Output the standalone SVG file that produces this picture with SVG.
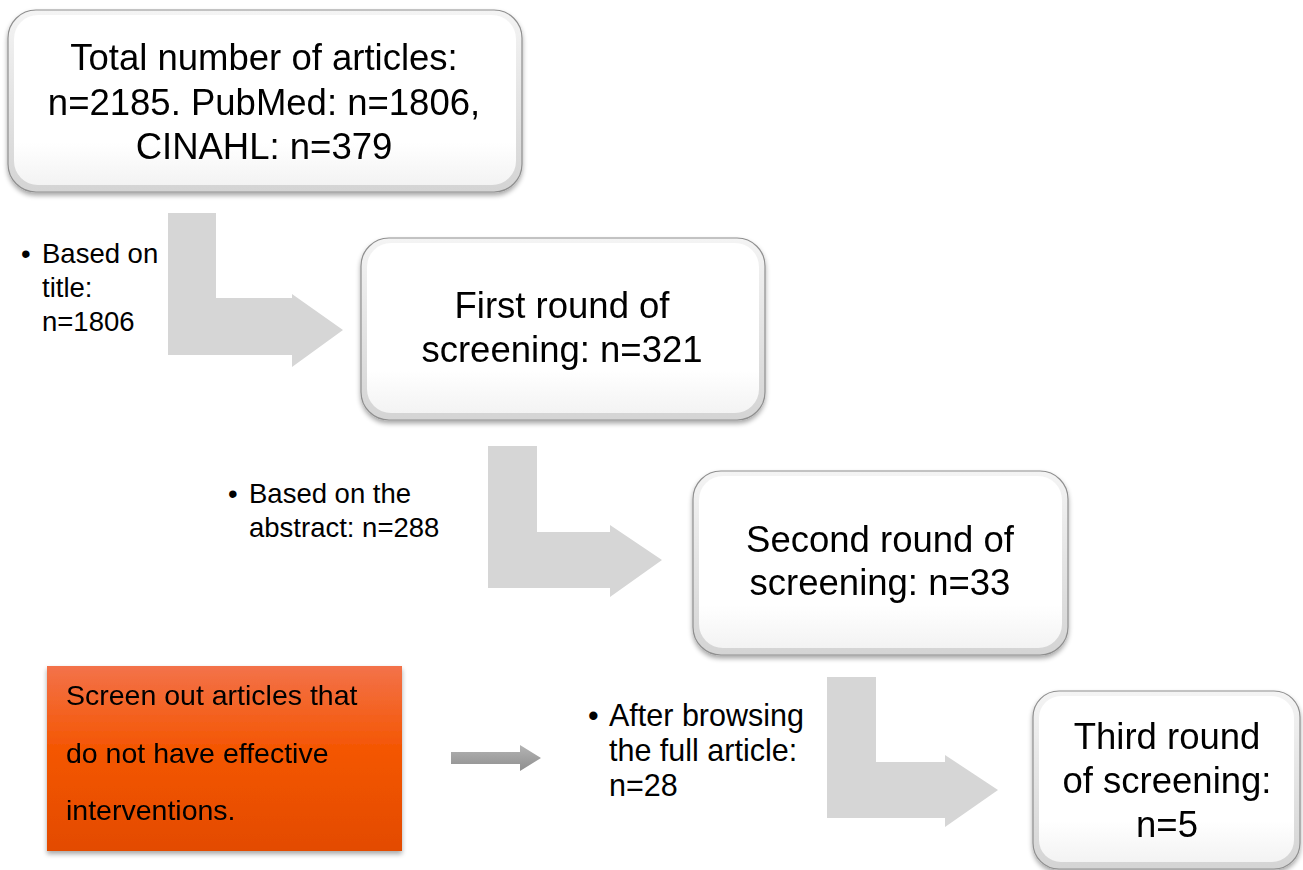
<svg xmlns="http://www.w3.org/2000/svg" width="1303" height="870" viewBox="0 0 1303 870">
<defs>
<linearGradient id="bevel" x1="0" y1="0" x2="0" y2="1">
<stop offset="0" stop-color="#f4f4f4"/><stop offset="1" stop-color="#d4d4d4"/>
</linearGradient>
<linearGradient id="face" x1="0" y1="0" x2="0" y2="1">
<stop offset="0" stop-color="#ffffff"/><stop offset="0.75" stop-color="#ffffff"/><stop offset="1" stop-color="#f3f3f3"/>
</linearGradient>
<linearGradient id="orange" x1="0" y1="0" x2="0" y2="1">
<stop offset="0" stop-color="#f3724a"/><stop offset="0.45" stop-color="#f45602"/><stop offset="1" stop-color="#e34b00"/>
</linearGradient>
<linearGradient id="grey" x1="0" y1="0" x2="0" y2="1">
<stop offset="0" stop-color="#b4b4b4"/><stop offset="1" stop-color="#8e8e8e"/>
</linearGradient>
<filter id="shadow" x="-10%" y="-10%" width="120%" height="125%">
<feGaussianBlur in="SourceAlpha" stdDeviation="2.5"/>
<feOffset dx="0" dy="3" result="b"/>
<feComponentTransfer><feFuncA type="linear" slope="0.35"/></feComponentTransfer>
<feMerge><feMergeNode/><feMergeNode in="SourceGraphic"/></feMerge>
</filter>
</defs>
<style>
.outer{fill:url(#bevel);stroke:#8f8f8f;stroke-width:1.2}
.inner{fill:url(#face)}
.big{font-family:"Liberation Sans",Arial,sans-serif;font-size:36.5px;fill:#000;text-anchor:middle}
.lbl{font-family:"Liberation Sans",Arial,sans-serif;font-size:27.5px;fill:#000}
.lbl3{font-family:"Liberation Sans",Arial,sans-serif;font-size:30.5px;fill:#000}
.otx{font-family:"Liberation Sans",Arial,sans-serif;font-size:28.5px;fill:#000}
.bent{fill:#d6d6d6}
</style>

<g id="connectors">
<path class="bent" d="M168,213 H216 V298 H292 V294 L343,330 L292,367 V355 H168 Z"/>
<path class="bent" d="M488,446 H537 V532 H610 V525 L662,560 L610,597 V588 H488 Z"/>
<path class="bent" d="M827,677 H876 V762 H945 V755 L998,790 L945,827 V818 H827 Z"/>
<path d="M451,752 H520 V745 L541,758 L520,771 V764 H451 Z" fill="url(#grey)"/>
</g>

<g id="node-total" filter="url(#shadow)">
<rect class="outer" x="8" y="10" width="514" height="182" rx="28"/>
<rect class="inner" x="14" y="15" width="502" height="170" rx="24"/>
<text class="big" x="264" y="70">Total number of articles:</text>
<text class="big" x="264" y="115">n=2185. PubMed: n=1806,</text>
<text class="big" x="264" y="159">CINAHL: n=379</text>
</g>

<g id="label-title">
<text class="lbl" x="21" y="263">•</text>
<text class="lbl" x="42" y="263">Based on</text>
<text class="lbl" x="42" y="297">title:</text>
<text class="lbl" x="42" y="331">n=1806</text>
</g>

<g id="node-first" filter="url(#shadow)">
<rect class="outer" x="361" y="238" width="404" height="182" rx="28"/>
<rect class="inner" x="367" y="243" width="392" height="170" rx="24"/>
<text class="big" x="562" y="318">First round of</text>
<text class="big" x="562" y="362">screening: n=321</text>
</g>

<g id="label-abstract">
<text class="lbl" x="228" y="503">•</text>
<text class="lbl" x="249" y="503">Based on the</text>
<text class="lbl" x="249" y="537">abstract: n=288</text>
</g>

<g id="node-second" filter="url(#shadow)">
<rect class="outer" x="693" y="471" width="375" height="184" rx="28"/>
<rect class="inner" x="699" y="476" width="363" height="172" rx="24"/>
<text class="big" x="880" y="552">Second round of</text>
<text class="big" x="880" y="595">screening: n=33</text>
</g>

<g id="label-full">
<text class="lbl3" x="588" y="726">•</text>
<text class="lbl3" x="609" y="726">After browsing</text>
<text class="lbl3" x="609" y="761">the full article:</text>
<text class="lbl3" x="609" y="796">n=28</text>
</g>

<g id="node-third" filter="url(#shadow)">
<rect class="outer" x="1033" y="691" width="267" height="178" rx="26"/>
<rect class="inner" x="1039" y="696" width="255" height="166" rx="22"/>
<text class="big" x="1167" y="749">Third round</text>
<text class="big" x="1167" y="793">of screening:</text>
<text class="big" x="1167" y="837">n=5</text>
</g>

<g id="node-screenout" filter="url(#shadow)">
<rect x="47" y="666" width="355" height="185" fill="url(#orange)"/>
<text class="otx" x="66" y="705">Screen out articles that</text>
<text class="otx" x="66" y="763">do not have effective</text>
<text class="otx" x="66" y="820">interventions.</text>
</g>
</svg>
